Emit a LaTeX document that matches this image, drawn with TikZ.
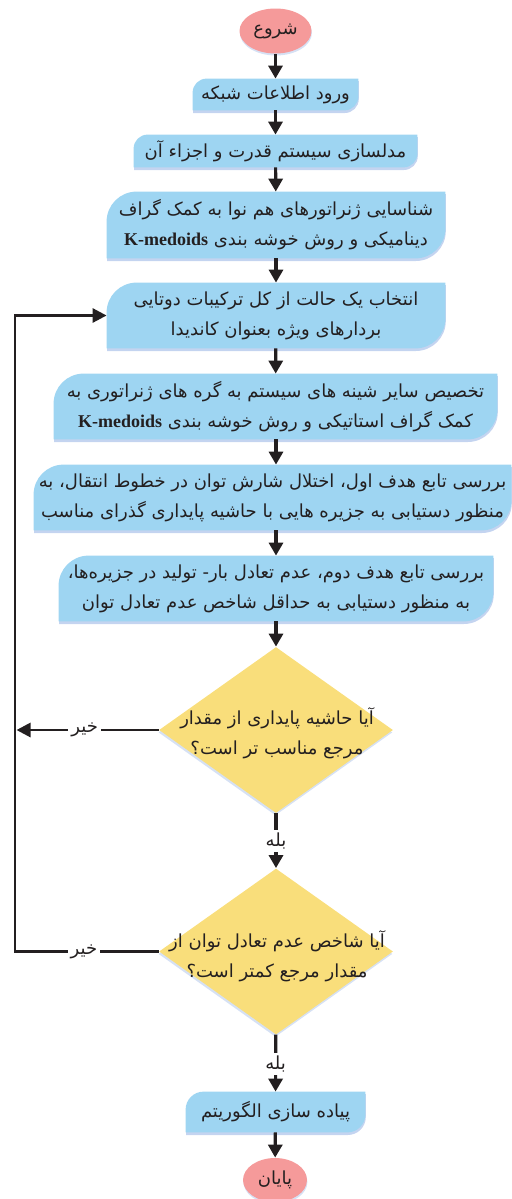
\documentclass[tikz,border=0pt]{standalone}
\usepackage{fontspec}
\usepackage{xcolor}
\usetikzlibrary{arrows.meta}
\usetikzlibrary{shapes.geometric}
\usetikzlibrary{shadows}
\usetikzlibrary{backgrounds}
\TeXXeTstate=1
\newfontfamily\fa[Script=Arabic]{DejaVu Sans}
\newfontfamily\lat{Liberation Serif}
\definecolor{boxblue}{RGB}{158,213,242}
\definecolor{startpink}{RGB}{245,154,154}
\definecolor{askyellow}{RGB}{249,222,123}
\definecolor{shadowblue}{RGB}{196,212,240}
\definecolor{inkdark}{RGB}{35,31,32}

\begin{document}
\begin{tikzpicture}[
    x=0.5pt, y=-0.5pt,
    % shapes
    every node/.style={font=\fa\fontsize{9}{15}\selectfont, text=inkdark},
    procbox/.style={rectangle, inner sep=0pt, align=center},
    terminal/.style={ellipse, fill=startpink, inner sep=0pt,
      drop shadow={shadow xshift=0.2pt, shadow yshift=-1pt, fill=shadowblue, opacity=0.7}},
    decision/.style={diamond, fill=askyellow, inner sep=0pt,
      minimum width=117pt, minimum height=83pt,
      drop shadow={shadow xshift=-0.3pt, shadow yshift=-1.2pt, fill=shadowblue, opacity=0.7}},
    asktext/.style={align=center, inner sep=0pt},
    answer/.style={fill=white, inner sep=1.5pt},
    % connectors
    flow/.style={draw=inkdark, line width=1.6pt, -{Triangle[width=7pt, length=6.5pt]}},
    back/.style={draw=inkdark, line width=1.4pt, -{Triangle[width=7pt, length=7pt]}}]

    \useasboundingbox (0, 0) rectangle (511, 1199);

    % start / end
    \node[terminal, minimum width=36pt, minimum height=22.5pt] (start) at (275.5, 31) {شروع};
    \node[terminal, minimum width=32pt, minimum height=22pt] (stop) at (275, 1180) {پایان};

    % process boxes
    \node[procbox, minimum width=82.5pt, minimum height=15.5pt] (b1) at (275.5, 94.5)
      {\beginR ورود اطلاعات شبکه\endR};
    \node[procbox, minimum width=141.5pt, minimum height=16pt] (b2) at (275.5, 151)
      {\beginR مدلسازی سیستم قدرت و اجزاء آن\endR};
    \node[procbox, minimum width=169pt, minimum height=33pt] (b3) at (276, 225)
      {\beginR شناسایی ژنراتورهای هم نوا به کمک گراف\endR\\
       \beginR دینامیکی و روش خوشه بندی \beginL{\lat\bfseries K-medoids}\endL{}\endR};
    \node[procbox, minimum width=169pt, minimum height=32.5pt] (b4) at (276, 315.5)
      {\beginR انتخاب یک حالت از کل ترکیبات دوتایی\endR\\
       \beginR بردارهای ویژه بعنوان کاندیدا\endR};
    \node[procbox, minimum width=221.5pt, minimum height=32.5pt] (b5) at (275.5, 406.5)
      {\beginR تخصیص سایر شینه های سیستم به گره های ژنراتوری به\endR\\
       \beginR کمک گراف استاتیکی و روش خوشه بندی \beginL{\lat\bfseries K-medoids}\endL{}\endR};
    \node[procbox, minimum width=238.5pt, minimum height=32.5pt] (b6) at (272.5, 497.5)
      {\beginR بررسی تابع هدف اول، اختلال شارش توان در خطوط انتقال، به\endR\\
       \beginR منظور دستیابی به جزیره هایی با حاشیه پایداری گذرای مناسب\endR};
    \node[procbox, minimum width=217pt, minimum height=32.5pt] (b7) at (276, 588.5)
      {\beginR بررسی تابع هدف دوم، عدم تعادل بار- تولید در جزیره‌ها،\endR\\
       \beginR به منظور دستیابی به حداقل شاخص عدم تعادل توان\endR};
    \node[procbox, minimum width=89.5pt, minimum height=20pt] (b8) at (275.5, 1112)
      {\beginR پیاده سازی الگوریتم\endR};

    % decisions
    \node[decision] (q1) at (276, 730) {};
    \node[asktext] (q1t) at (277, 733)
      {\beginR آیا حاشیه پایداری از مقدار\endR\\ \beginR مرجع مناسب تر است؟\endR};
    \node[decision] (q2) at (276, 951.5) {};
    \node[asktext] (q2t) at (277, 956)
      {\beginR آیا شاخص عدم تعادل توان از\endR\\ \beginR مقدار مرجع کمتر است؟\endR};

    % box fills with two rounded corners
    \begin{pgfonlayer}{background}
      \foreach \n/\r in {b1/7pt, b2/7pt, b3/15pt, b4/15pt, b5/15pt, b6/15pt, b7/15pt, b8/9pt} {
        \fill[shadowblue, transform canvas={shift={(0.2pt,-1.3pt)}}]
          (\n.south west) -- ([yshift=-\r]\n.north west)
          arc[start angle=180, end angle=90, radius=\r] -- (\n.north east)
          -- ([yshift=\r]\n.south east)
          arc[start angle=0, end angle=-90, radius=\r] -- cycle;
        \fill[boxblue]
          (\n.south west) -- ([yshift=-\r]\n.north west)
          arc[start angle=180, end angle=90, radius=\r] -- (\n.north east)
          -- ([yshift=\r]\n.south east)
          arc[start angle=0, end angle=-90, radius=\r] -- cycle;
      }
    \end{pgfonlayer}

    % main flow
    \draw[flow] (start) -- (b1);
    \draw[flow] (b1) -- (b2);
    \draw[flow] (b2) -- (b3);
    \draw[flow] (b3) -- (b4);
    \draw[flow] (b4) -- (b5);
    \draw[flow] (b5.south -| b4) -- (b6.north -| b4);
    \draw[flow] (b6.south -| b4) -- (b7.north -| b4);
    \draw[flow] (b7) -- (q1);
    \draw[flow] (q1) -- node[answer] {\beginR بله\endR} (q2);
    \draw[flow] (q2) -- node[answer, pos=0.52] {\beginR بله\endR} (b8);
    \draw[flow] (b8) -- (stop);

    % loop back
    \coordinate (rail1) at (16.5, 730);
    \coordinate (rail2) at (15, 951.5);
    \draw[back] (q1.west) -- node[answer, pos=0.52] {\beginR خیر\endR} (rail1);
    \draw[back] (q2.west) -- node[answer, pos=0.52] {\beginR خیر\endR} (rail2)
      |- (b4.west);

  \end{tikzpicture}
\end{document}
